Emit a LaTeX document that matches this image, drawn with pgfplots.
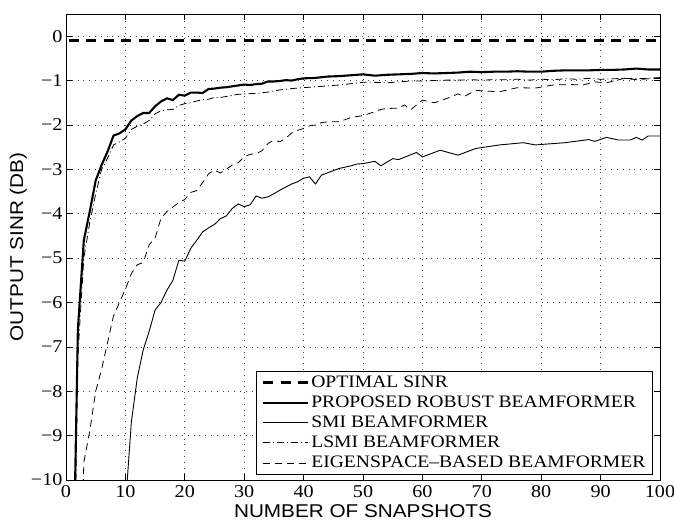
\documentclass[border=0pt]{standalone}
\usepackage{fontspec}
\setmainfont{Liberation Serif}[FakeStretch=1.12]
\setsansfont{Liberation Sans}[FakeStretch=1.12]
\usepackage{pgfplots}
\pgfplotsset{compat=1.18}

\begin{document}
\begin{tikzpicture}
  \begin{axis}[
      name=ax,
      scale only axis,
      width=594pt, height=466pt,
      xmin=0, xmax=100, ymin=-10, ymax=0.5,
      xtick={0,10,...,100},
      ytick={-10,-9,...,0},
      yticklabels={−10,−9,−8,−7,−6,−5,−4,−3,−2,−1,0},
      /pgf/number format/assume math mode=true,
      ticklabel style={font=\fontsize{18}{20}\selectfont},
      xticklabel style={yshift=-2pt},
      xlabel={\sffamily NUMBER OF SNAPSHOTS},
      ylabel={\sffamily OUTPUT SINR (DB)},
      label style={font=\fontsize{18.5}{20}\selectfont},
      xlabel style={yshift=-0.5pt},
      ylabel style={yshift=-3pt},
      tick align=inside,
      xtick pos=both, ytick pos=both,
      major tick length=6pt,
      axis line style={line width=0.9pt},
      tick style={line width=0.7pt, black},
      grid=major,
      grid style={black!75, line width=0.7pt, dash pattern=on 0.8pt off 5pt},
      legend cell align=left,
      legend style={at={(0.988,0.011)}, anchor=south east,
        font=\fontsize{17.5}{20}\selectfont, draw=black, line width=0.8pt,
        inner xsep=5pt, inner ysep=3pt, row sep=3pt},
      legend image code/.code={\draw (0pt,0pt) -- (45pt,0pt);},
    ]
    % optimal SINR
    \addplot[black, line width=2.6pt, dash pattern=on 10pt off 7.5pt]
      coordinates {(0.5,-0.1) (100,-0.1)};
    % proposed robust beamformer
    \addplot[black, line width=2.1pt] coordinates {
      (1,-14) (2,-6.6) (3,-4.6) (4,-3.95) (5,-3.25) (6,-2.9) (7,-2.6) (8,-2.24)
      (9,-2.19) (10,-2.1) (11,-1.9) (12,-1.8) (13,-1.73) (14,-1.73) (15,-1.58)
      (16,-1.47) (17,-1.40) (18,-1.44) (19,-1.32) (20,-1.34) (21,-1.27) (22,-1.27)
      (23,-1.28) (24,-1.19) (25,-1.18) (26,-1.16) (27,-1.15) (28,-1.13) (29,-1.11)
      (30,-1.09) (31,-1.10) (32,-1.08) (33,-1.07) (34,-1.02) (35,-1.02) (36,-1.01)
      (37,-0.99) (38,-1.00) (39,-0.97) (40,-0.95) (42,-0.94) (44,-0.91) (46,-0.90)
      (48,-0.88) (50,-0.86) (52,-0.89) (54,-0.87) (56,-0.86) (58,-0.85) (60,-0.83)
      (62,-0.84) (64,-0.83) (66,-0.82) (68,-0.80) (70,-0.81) (72,-0.80) (74,-0.80)
      (76,-0.79) (78,-0.80) (80,-0.80) (82,-0.78) (84,-0.77) (86,-0.77) (88,-0.77)
      (90,-0.76) (92,-0.76) (94,-0.75) (96,-0.73) (98,-0.75) (100,-0.75)};
    % SMI beamformer
    \addplot[black, line width=0.9pt] coordinates {
      (10,-10.6) (11,-8.7) (12,-7.7) (13,-7.07) (14,-6.65) (15,-6.17) (16,-6.0)
      (17,-5.72) (18,-5.5) (19,-5.05) (20,-5.07) (21,-4.78) (22,-4.6) (23,-4.41)
      (24,-4.32) (25,-4.24) (26,-4.11) (27,-4.05) (28,-3.88) (29,-3.78) (30,-3.84)
      (31,-3.80) (32,-3.6) (33,-3.65) (34,-3.62) (35,-3.55) (36,-3.47) (37,-3.40)
      (38,-3.33) (39,-3.28) (40,-3.2) (41,-3.17) (42,-3.33) (43,-3.13) (44,-3.08)
      (46,-2.98) (48,-2.92) (49,-2.88) (50,-2.87) (52,-2.82) (53,-2.92) (55,-2.76)
      (56,-2.78) (59,-2.62) (60,-2.72) (63,-2.57) (66,-2.68) (69,-2.53) (73,-2.45)
      (77,-2.40) (79,-2.45) (84,-2.40) (88,-2.33) (89,-2.37) (91,-2.28) (93,-2.34)
      (95,-2.34) (96,-2.28) (97,-2.34) (98,-2.25) (100,-2.25)};
    % LSMI beamformer
    \addplot[black, line width=0.8pt, dash pattern=on 7pt off 3pt on 1pt off 3pt] coordinates {
      (1,-16) (2,-7.2) (3,-5.0) (4,-4.2) (5,-3.55) (6,-3.0) (7,-2.75) (8,-2.45)
      (9,-2.38) (10,-2.30) (11,-2.1) (12,-2.03) (13,-1.98) (14,-1.9) (15,-1.75)
      (16,-1.68) (17,-1.66) (18,-1.65) (19,-1.56) (20,-1.52) (21,-1.50) (22,-1.46)
      (23,-1.43) (24,-1.42) (25,-1.38) (26,-1.38) (27,-1.36) (28,-1.33) (29,-1.31)
      (30,-1.30) (32,-1.29) (34,-1.26) (36,-1.21) (38,-1.18) (40,-1.16) (42,-1.14)
      (44,-1.12) (46,-1.10) (48,-1.07) (50,-1.04) (52,-1.04) (54,-1.05) (56,-1.03)
      (58,-1.01) (60,-1.01) (62,-1.00) (64,-0.99) (66,-0.99) (68,-0.98) (70,-0.99)
      (72,-0.98) (74,-0.98) (76,-0.97) (78,-0.99) (80,-0.97) (82,-0.98) (84,-0.96)
      (86,-0.97) (88,-0.95) (90,-0.97) (92,-0.96) (94,-0.95) (96,-0.96) (98,-0.95)
      (100,-0.93)};
    % eigenspace-based beamformer
    \addplot[black, line width=0.8pt, dash pattern=on 7pt off 5pt] coordinates {
      (2,-15) (3,-9.6) (4,-8.9) (5,-8.0) (6,-7.5) (7,-6.9) (8,-6.3) (9,-6.0)
      (10,-5.7) (11,-5.35) (12,-5.15) (13,-5.1) (14,-4.7) (15,-4.55) (16,-4.1)
      (17,-3.95) (18,-3.85) (19,-3.75) (20,-3.68) (21,-3.52) (22,-3.48) (23,-3.3)
      (24,-3.1) (25,-3.02) (26,-3.08) (27,-3.0) (28,-2.9) (29,-2.85) (30,-2.72)
      (31,-2.66) (32,-2.65) (33,-2.58) (34,-2.42) (35,-2.34) (36,-2.38) (37,-2.30)
      (38,-2.18) (39,-2.12) (40,-2.08) (41,-2.02) (42,-2.0) (43,-1.95) (44,-1.93)
      (46,-1.93) (48,-1.83) (50,-1.79) (52,-1.70) (53,-1.65) (54,-1.63) (56,-1.62)
      (57,-1.55) (58,-1.66) (60,-1.44) (62,-1.50) (64,-1.41) (66,-1.30) (67,-1.36)
      (69,-1.22) (71,-1.24) (73,-1.25) (76,-1.16) (79,-1.17) (82,-1.10) (85,-1.09)
      (87,-1.10) (89,-1.03) (91,-1.05) (94,-0.95) (96,-0.98) (98,-0.96) (100,-0.95)};
    \legend{OPTIMAL SINR, PROPOSED ROBUST BEAMFORMER, SMI BEAMFORMER,
      LSMI BEAMFORMER, EIGENSPACE–BASED BEAMFORMER}
  \end{axis}
  \pgfresetboundingbox
  \path ([shift={(-66pt,-43pt)}]ax.south west) rectangle ([shift={(14pt,14pt)}]ax.north east);
\end{tikzpicture}
\end{document}
